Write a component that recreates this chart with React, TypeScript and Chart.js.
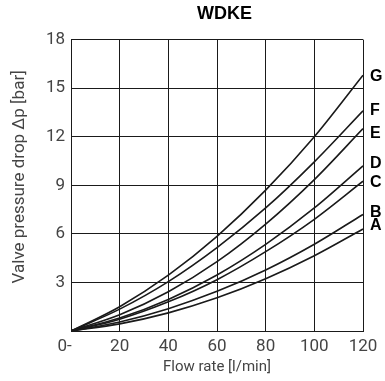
import { useEffect, useRef } from "react";
import { Chart, registerables } from "chart.js";

Chart.register(...registerables);

const flowRates = [0, 20, 40, 60, 80, 100, 120];
const curveNames = ["G", "F", "E", "D", "C", "B", "A"];
const curveG = [0, 1.5, 3.45, 5.85, 8.7, 12.0, 15.8];
const curveF = [0, 1.35, 3.05, 5.15, 7.6, 10.45, 13.6];
const curveE = [0, 1.0, 2.42, 4.28, 6.6, 9.35, 12.5];
const curveD = [0, 0.8, 1.95, 3.46, 5.35, 7.6, 10.2];
const curveC = [0, 0.73, 1.8, 3.17, 4.9, 6.9, 9.25];
const curveB = [0, 0.56, 1.38, 2.45, 3.77, 5.36, 7.2];
const curveA = [0, 0.44, 1.12, 2.05, 3.23, 4.65, 6.3];
const xTicks = [0, 20, 40, 60, 80, 100, 120];
const yTicks = [0, 3, 6, 9, 12, 15, 18];

export default function App() {
  const ref = useRef<HTMLCanvasElement>(null);

  useEffect(() => {
    if (!ref.current) return;
    const series = [curveG, curveF, curveE, curveD, curveC, curveB, curveA];
    const labelShift = [1, 0, 4.5, -2, 1.5, -2, -3];
    const ink = "#1a1a1a";
    const textGrey = "#444";
    const tickFont = { family: "Roboto", size: 17 };

    const endLabels = {
      id: "endLabels",
      afterDatasetsDraw(chart: any) {
        const ctx = chart.ctx;
        ctx.save();
        ctx.font = "bold 16px 'Liberation Sans', Arial, sans-serif";
        ctx.fillStyle = "#000";
        ctx.textAlign = "left";
        ctx.textBaseline = "middle";
        chart.data.datasets.forEach((ds: any, i: number) => {
          const meta = chart.getDatasetMeta(i);
          const pt = meta.data[meta.data.length - 1];
          ctx.fillText(ds.label, pt.x + 7, pt.y + labelShift[i]);
        });
        ctx.restore();
      },
    };

    const chart = new Chart(ref.current, {
      type: "line",
      data: {
        datasets: series.map((vals, i) => ({
          label: curveNames[i],
          data: flowRates.map((q, j) => ({ x: q, y: vals[j] })),
          borderColor: ink,
          borderWidth: 1.6,
          pointRadius: 0,
          fill: false,
          cubicInterpolationMode: "monotone" as const,
        })),
      },
      options: {
        responsive: false,
        animation: false,
        devicePixelRatio: 1,
        layout: { padding: { left: 0, right: 22, top: 0, bottom: 0 } },
        plugins: {
          legend: { display: false },
          tooltip: { enabled: false },
          title: {
            display: true,
            text: "   WDKE",
            fullSize: false,
            color: "#000",
            font: { family: "'Liberation Sans', Arial, sans-serif", size: 18, weight: "bold" },
            padding: { top: 3, bottom: 15 },
          },
        },
        scales: {
          x: {
            type: "linear",
            min: 0,
            max: 120,
            afterBuildTicks(scale: any) {
              scale.ticks = xTicks.map((v) => ({ value: v }));
            },
            afterFit(scale: any) {
              scale.height = 50;
            },
            grid: { color: ink, lineWidth: 1, drawTicks: false },
            border: { color: ink, width: 1 },
            ticks: {
              color: textGrey,
              font: tickFont,
              padding: 6,
              maxRotation: 0,
              callback: (v: any) => (v === 0 ? "0-   " : String(v)),
            },
            title: {
              display: true,
              text: "Flow rate [l/min]",
              color: textGrey,
              font: { family: "Roboto", size: 15 },
              padding: { top: 0, bottom: 5 },
            },
          },
          y: {
            type: "linear",
            min: 0,
            max: 18,
            afterBuildTicks(scale: any) {
              scale.ticks = yTicks.map((v) => ({ value: v }));
            },
            afterFit(scale: any) {
              scale.width = 71;
            },
            grid: { color: ink, lineWidth: 1, drawTicks: false },
            border: { color: ink, width: 1 },
            ticks: {
              color: textGrey,
              font: tickFont,
              padding: 6,
              callback: (v: any) => (v === 0 ? "" : String(v)),
            },
            title: {
              display: true,
              text: "    Valve pressure drop \u0394p [bar]",
              color: textGrey,
              font: { family: "Roboto", size: 17 },
              padding: { top: 10, bottom: 0 },
            },
          },
        },
      },
      plugins: [endLabels],
    });

    return () => chart.destroy();
  }, []);

  return (
    <div style={{ position: "absolute", left: 0, top: 0, width: 385, height: 381, background: "#fff" }}>
      <canvas ref={ref} width={385} height={381} />
    </div>
  );
}
